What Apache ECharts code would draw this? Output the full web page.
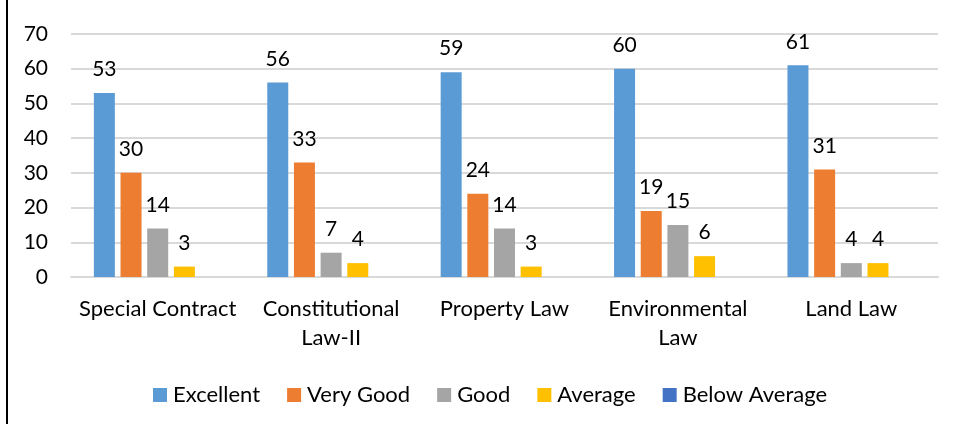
<!DOCTYPE html>
<html>
<head>
<meta charset="utf-8">
<script src="https://cdn.jsdelivr.net/npm/echarts@6/dist/echarts.min.js"></script>
<style>
html,body{margin:0;padding:0;background:#fff;}
#chart{width:955px;height:424px;}
</style>
</head>
<body>
<div id="chart"></div>
<script>
const categories = ["Special Contract", "Constitutional\nLaw-II", "Property Law", "Environmental\nLaw", "Land Law"];
const seriesNames = ["Excellent", "Very Good", "Good", "Average", "Below Average"];
const excellent = [53, 56, 59, 60, 61];
const veryGood = [30, 33, 24, 19, 31];
const good = [14, 7, 14, 15, 4];
const average = [3, 4, 3, 6, 4];
const belowAverage = [0, 0, 0, 0, 0];
const yTicks = [0, 10, 20, 30, 40, 50, 60, 70];

const colors = ["#5B9BD5", "#ED7D31", "#A5A5A5", "#FFC000", "#4472C4"];
const values = [excellent, veryGood, good, average, belowAverage];
const FONT = "Lato, 'Open Sans', sans-serif";

const chart = echarts.init(document.getElementById('chart'), null, {renderer: 'canvas'});
chart.setOption({
  animation: false,
  color: colors,
  textStyle: {fontFamily: FONT},
  graphic: [{
    type: 'rect', left: 6, top: 0,
    shape: {width: 2, height: 424},
    style: {fill: '#000'}
  }],
  grid: {left: 71, right: 17, top: 34, bottom: 147, containLabel: false},
  legend: {
    left: 148, top: 379,
    itemWidth: 14, itemHeight: 14, itemGap: 27,
    icon: 'rect',
    textStyle: {fontSize: 22, color: '#000', fontFamily: FONT, padding: [0, 0, 0, 1]},
    data: seriesNames
  },
  xAxis: {
    type: 'category',
    data: categories,
    axisLine: {show: true, lineStyle: {color: '#d9d9d9', width: 2}},
    axisTick: {show: false},
    axisLabel: {interval: 0, fontSize: 22, color: '#000', fontFamily: FONT, lineHeight: 29, margin: 17}
  },
  yAxis: {
    type: 'value',
    min: yTicks[0], max: yTicks[yTicks.length - 1], interval: 10,
    axisLine: {show: false},
    axisTick: {show: false},
    splitLine: {lineStyle: {color: '#d9d9d9', width: 2}},
    axisLabel: {fontSize: 21, color: '#000', fontFamily: FONT, margin: 23}
  },
  series: seriesNames.map((name, i) => ({
    name: name,
    type: 'bar',
    data: values[i],
    barWidth: 21,
    barGap: '27%',
    itemStyle: {color: colors[i]},
    label: {
      show: i < 4,
      position: 'top',
      distance: 13,
      fontSize: 21,
      color: '#000',
      fontFamily: FONT
    }
  }))
});
</script>
</body>
</html>
